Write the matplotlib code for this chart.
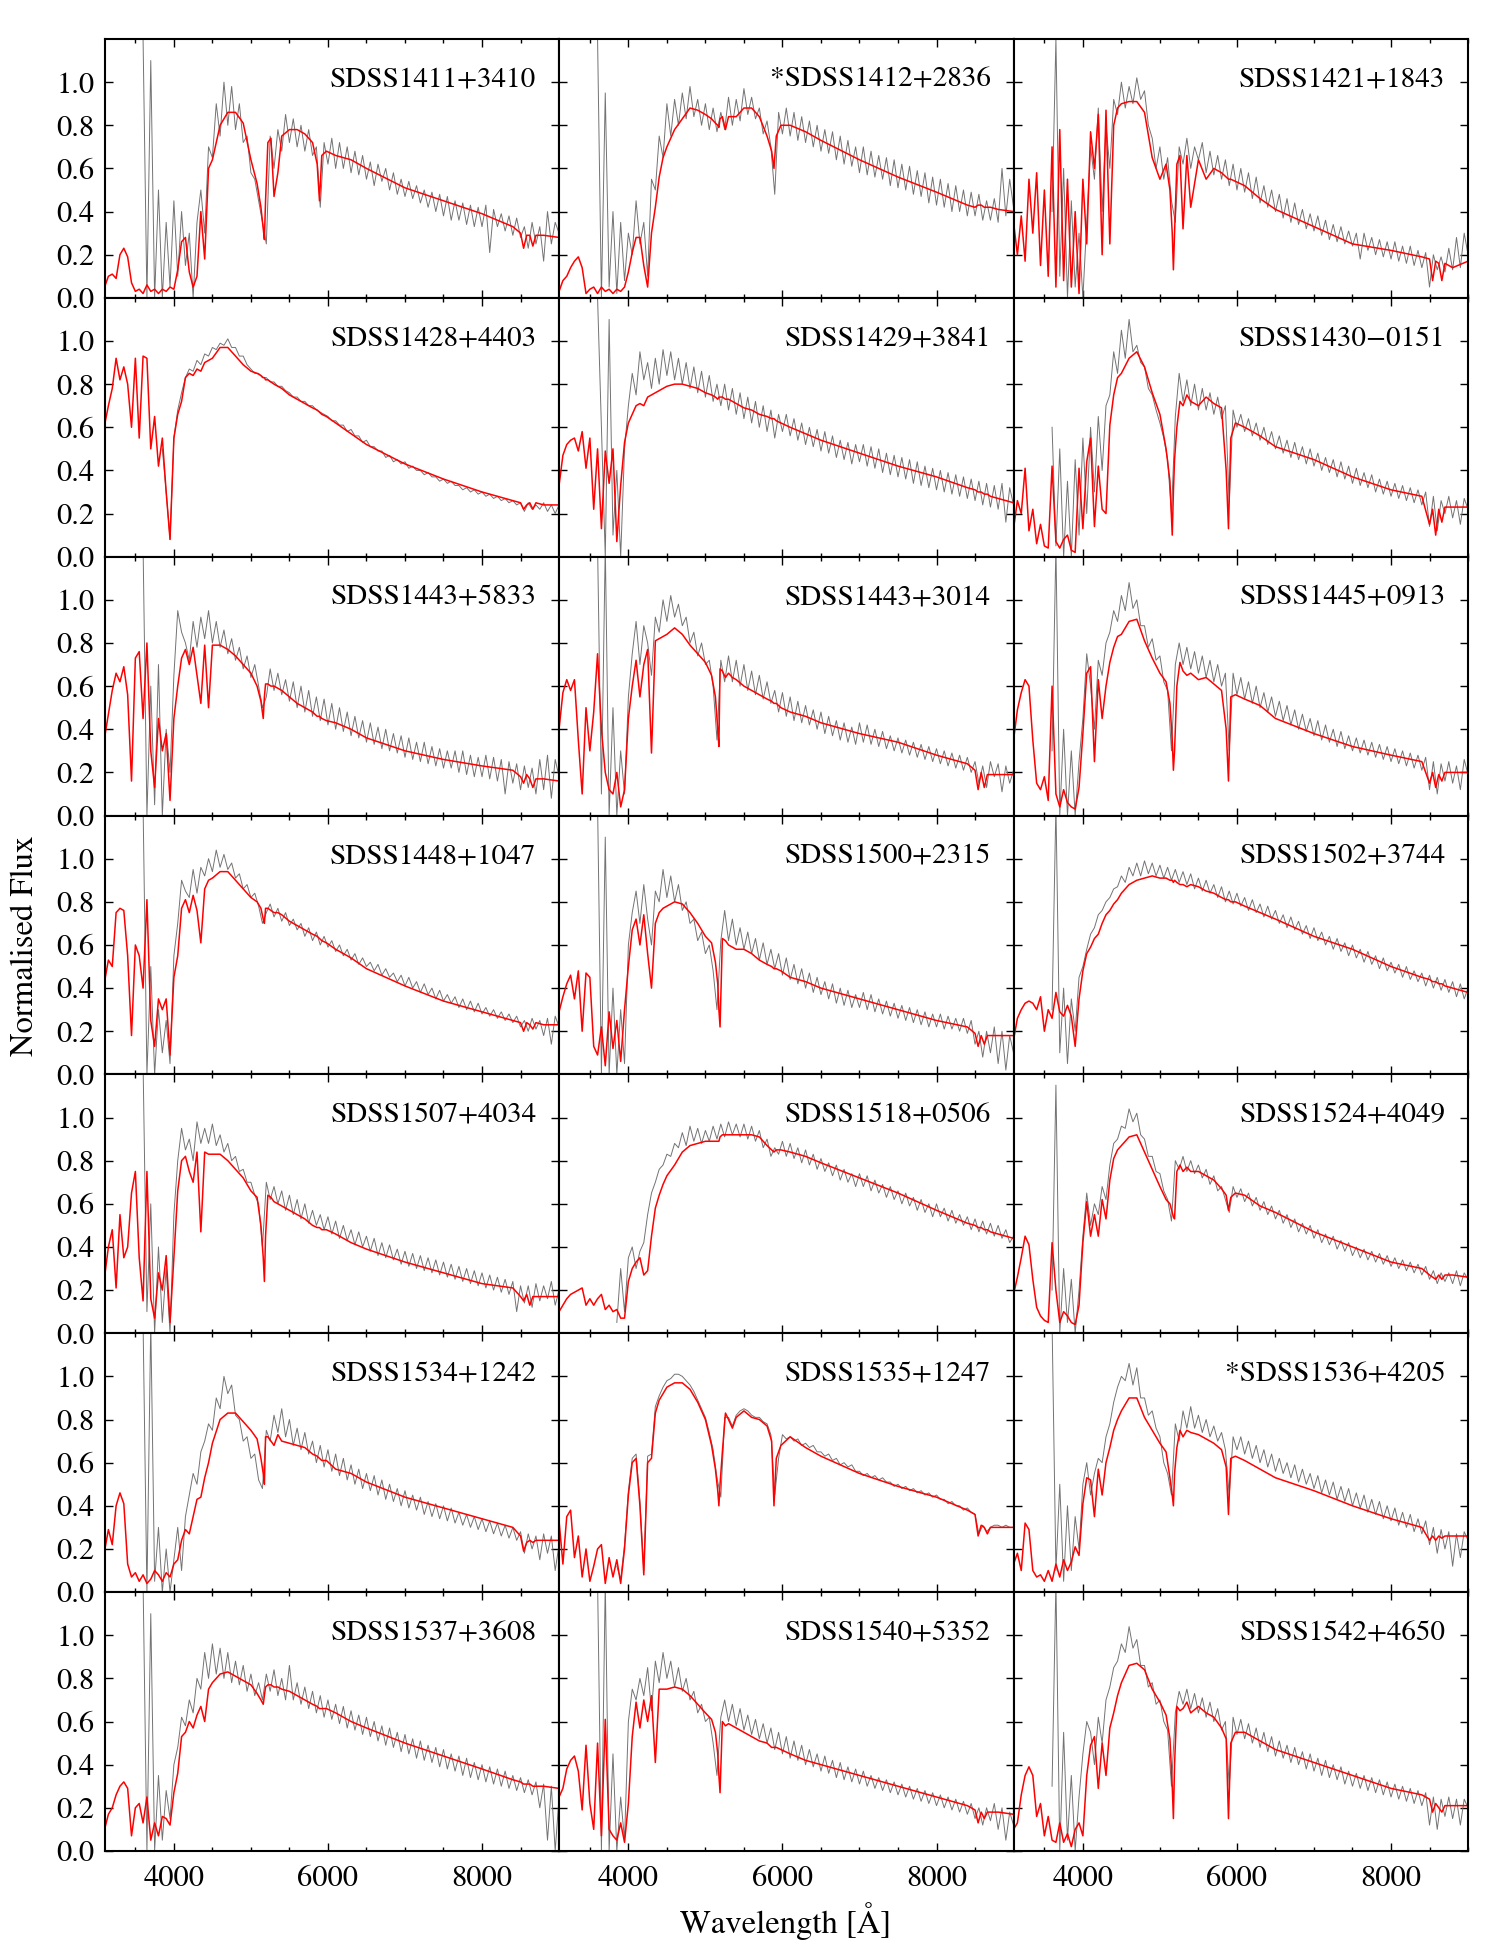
import numpy as np
import matplotlib
matplotlib.use("Agg")
import matplotlib.pyplot as plt
from matplotlib.ticker import MultipleLocator

plt.rcParams["font.family"] = ["STIXGeneral", "DejaVu Serif"]
plt.rcParams["mathtext.fontset"] = "stix"

# wavelength sampling of the model curves (Angstrom)
model_wave = [3100, 3150, 3200, 3250, 3300, 3350, 3400, 3450, 3500, 3550,
              3600, 3650, 3700, 3750, 3800, 3850, 3900, 3950, 4000, 4050,
              4100, 4150, 4200, 4250, 4300, 4350, 4400, 4450, 4500,
              4600, 4700, 4800, 4900, 5000, 5080, 5130, 5160, 5175, 5190,
              5220, 5260, 5300, 5350, 5400, 5500, 5600, 5700, 5800, 5860,
              5890, 5920, 5980, 6100, 6300, 6500, 7000, 7500, 8000, 8400,
              8500, 8540, 8580, 8620, 8660, 8700, 8800, 9000]
# observed spectra, read every 50 A from 3600 to 9000
obs_wave = list(range(3600, 9001, 50))

N = None  # no data

names = ["SDSS1411+3410", "*SDSS1412+2836", "SDSS1421+1843",
         "SDSS1428+4403", "SDSS1429+3841", "SDSS1430\u22120151",
         "SDSS1443+5833", "SDSS1443+3014", "SDSS1445+0913",
         "SDSS1448+1047", "SDSS1500+2315", "SDSS1502+3744",
         "SDSS1507+4034", "SDSS1518+0506", "SDSS1524+4049",
         "SDSS1534+1242", "SDSS1535+1247", "*SDSS1536+4205",
         "SDSS1537+3608", "SDSS1540+5352", "SDSS1542+4650"]

# fluxes in percent of normalised flux
mod_1411 = [5, 10, 11, 9, 20, 23, 19, 7, 3, 4,
            2, 6, 3, 4, 2, 4, 3, 5, 4, 13,
            26, 28, 12, 5, 10, 40, 18, 60, 64,
            80, 86, 86, 81, 64, 53, 42, 32, 27, 45,
            72, 74, 47, 58, 75, 78, 78, 76, 72, 62,
            45, 66, 68, 66, 64, 60, 51, 45, 39, 33,
            30, 23, 29, 29, 24, 29, 29, 28]
obs_1411 = [120, 0, 110, 0, 50, 0, 35, 5,
            45, 10, 40, 15, 30, 0, 35, 50, 30, 70, 65, 90, 75, 100, 80, 98, 78, 90, 72, 75,
            58, 55, 45, 35, 25, 75, 60, 78, 68, 85, 72, 83, 70, 80, 68, 78, 66, 70, 42, 72,
            62, 74, 60, 72, 60, 70, 58, 68, 57, 66, 55, 63, 52, 62, 54, 60, 50, 58, 48, 55,
            47, 54, 46, 52, 44, 50, 42, 49, 40, 48, 38, 47, 36, 45, 36, 44, 34, 43, 33, 42,
            33, 43, 21, 41, 33, 39, 31, 38, 29, 37, 28, 33, 23, 35, 25, 33, 17, 40, 25, 35,
            30]

mod_1412 = [3, 8, 10, 14, 17, 19, 14, 2, 4, 5,
            2, 5, 3, 4, 2, 4, 3, 5, 12, 21,
            28, 28, 15, 5, 30, 42, 56, 65, 70,
            78, 83, 88, 87, 85, 83, 81, 80, 79, 83,
            84, 78, 84, 84, 84, 88, 88, 84, 75, 68,
            60, 75, 80, 80, 77, 73, 64, 56, 49, 43,
            42, 43, 43, 42, 42, 42, 41, 40]
obs_1412 = [120, 0, 95, 5, 40, 2, 35, 8,
            30, 20, 45, 25, 35, 10, 55, 50, 75, 65, 90, 75, 92, 80, 95, 83, 98, 84, 92, 80,
            90, 78, 88, 77, 86, 78, 93, 80, 92, 82, 97, 85, 93, 83, 88, 76, 82, 70, 48, 86,
            76, 88, 75, 86, 73, 84, 72, 82, 70, 80, 68, 78, 67, 77, 64, 75, 62, 73, 61, 70,
            58, 70, 57, 68, 56, 66, 55, 65, 52, 64, 51, 62, 50, 61, 48, 59, 47, 58, 44, 56,
            43, 55, 42, 53, 40, 52, 40, 50, 38, 49, 38, 48, 36, 45, 36, 46, 35, 60, 38, 55,
            42]

mod_1421 = [35, 20, 38, 17, 55, 30, 58, 15, 50, 10,
            70, 5, 78, 8, 55, 5, 40, 2, 55, 25,
            77, 60, 85, 20, 87, 25, 80, 88, 90,
            91, 91, 86, 65, 55, 62, 50, 30, 13, 30,
            62, 66, 32, 66, 42, 64, 55, 60, 58, 56,
            55, 55, 54, 52, 46, 41, 33, 25, 22, 19,
            18, 8, 17, 16, 8, 16, 14, 17]
obs_1421 = [40, 120, 10, 60, 0, 45, 5, 30,
            0, 35, 70, 55, 88, 40, 80, 60, 92, 85, 100, 88, 98, 90, 102, 92, 96, 80, 74, 60,
            70, 55, 65, 45, 35, 70, 62, 74, 60, 70, 64, 72, 58, 68, 57, 66, 55, 64, 52, 62,
            50, 60, 49, 58, 46, 56, 44, 52, 42, 50, 40, 48, 37, 46, 35, 44, 34, 41, 32, 39,
            31, 38, 29, 36, 27, 34, 26, 33, 25, 31, 24, 30, 18, 30, 22, 28, 20, 27, 19, 26,
            18, 26, 17, 24, 16, 24, 15, 22, 14, 21, 5, 20, 13, 19, 12, 23, 13, 28, 14, 30,
            20]

mod_1428 = [61, 70, 78, 92, 82, 88, 80, 60, 92, 55,
            93, 92, 50, 65, 42, 55, 30, 8, 55, 66,
            72, 83, 85, 84, 87, 86, 90, 91, 92,
            97, 97, 93, 89, 86, 85, 84, 83, 83, 82,
            82, 81, 80, 79, 78, 75, 73, 71, 69, 68,
            67, 66, 65, 62, 57, 52, 43, 36, 30, 26,
            25, 22, 24, 25, 22, 25, 24, 24]
obs_1428 = [N, N, N, N, N, 50, 30, 8,
            55, 68, 76, 83, 87, 86, 91, 89, 94, 93, 97, 96, 99, 98, 101, 97, 97, 93, 93, 89,
            87, 85, 85, 83, 83, 81, 81, 79, 79, 77, 76, 74, 74, 72, 72, 70, 70, 68, 67, 66,
            65, 63, 63, 61, 61, 58, 59, 56, 56, 53, 54, 51, 51, 49, 49, 46, 47, 44, 45, 43,
            44, 41, 42, 40, 40, 38, 39, 37, 37, 35, 36, 34, 35, 33, 33, 31, 32, 30, 31, 29,
            30, 28, 29, 27, 28, 26, 27, 25, 26, 24, 25, 21, 25, 22, 24, 22, 25, 21, 24, 20,
            24]

mod_1429 = [33, 47, 52, 54, 55, 49, 58, 41, 55, 22,
            50, 13, 49, 34, 50, 7, 33, 53, 62, 66,
            70, 71, 70, 74, 75, 76, 77, 78, 79,
            80, 80, 79, 78, 76, 75, 74, 73, 74, 74,
            74, 73, 73, 72, 71, 69, 68, 66, 65, 64,
            64, 63, 62, 60, 57, 54, 48, 42, 37, 32,
            31, 30, 30, 29, 29, 28, 27, 25]
obs_1429 = [120, 60, 0, 110, 10, 40, 0, 50,
            70, 85, 75, 95, 82, 90, 78, 92, 80, 96, 84, 95, 82, 92, 80, 90, 78, 88, 76, 86,
            74, 84, 72, 80, 70, 80, 68, 78, 66, 76, 64, 74, 62, 72, 60, 70, 58, 68, 55, 66,
            58, 66, 56, 64, 54, 62, 52, 60, 51, 59, 49, 58, 48, 56, 46, 54, 45, 53, 43, 52,
            44, 52, 42, 51, 41, 50, 39, 48, 38, 47, 37, 46, 36, 45, 34, 44, 33, 42, 32, 41,
            31, 40, 30, 39, 29, 38, 28, 37, 27, 36, 26, 35, 24, 34, 23, 33, 22, 34, 16, 32,
            24]

mod_1430 = [13, 26, 20, 41, 12, 22, 6, 15, 5, 4,
            42, 7, 4, 8, 10, 3, 2, 41, 13, 44,
            55, 14, 42, 22, 20, 61, 75, 83, 85,
            92, 95, 88, 76, 66, 50, 35, 10, 30, 45,
            60, 72, 70, 75, 72, 70, 74, 71, 69, 40,
            13, 55, 62, 60, 56, 51, 45, 37, 31, 28,
            15, 22, 10, 22, 16, 23, 23, 23]
obs_1430 = [60, 5, 50, 0, 35, 0, 45, 10,
            55, 20, 60, 30, 65, 40, 70, 75, 95, 85, 105, 92, 110, 95, 98, 90, 88, 78, 75, 68,
            62, 55, 45, 20, 65, 85, 72, 82, 70, 80, 68, 78, 68, 76, 66, 74, 64, 70, 25, 68,
            60, 66, 58, 64, 56, 62, 54, 60, 52, 58, 50, 56, 48, 54, 46, 53, 45, 51, 43, 50,
            42, 48, 40, 46, 39, 45, 37, 44, 36, 42, 34, 41, 33, 39, 32, 38, 30, 36, 29, 35,
            28, 34, 27, 33, 26, 32, 25, 31, 24, 30, 14, 28, 12, 26, 20, 28, 18, 26, 15, 27,
            22]

mod_1443a = [36, 47, 58, 66, 62, 69, 56, 16, 73, 76,
             45, 80, 30, 13, 45, 30, 38, 7, 45, 60,
             73, 77, 70, 78, 65, 52, 79, 50, 79,
             79, 77, 74, 70, 66, 60, 53, 45, 55, 61,
             61, 60, 60, 59, 58, 55, 52, 50, 48, 46,
             46, 45, 44, 43, 40, 36, 30, 26, 23, 21,
             18, 15, 19, 17, 13, 17, 17, 16]
obs_1443a = [125, 0, 60, 5, 70, 0, 40, 20,
             65, 95, 85, 80, 72, 90, 78, 92, 82, 95, 80, 90, 78, 86, 75, 82, 72, 78, 68, 74,
             64, 70, 60, 50, 55, 68, 58, 66, 56, 63, 53, 62, 50, 60, 48, 58, 46, 55, 44, 54,
             42, 52, 40, 50, 39, 48, 37, 46, 36, 44, 34, 43, 33, 41, 31, 40, 30, 38, 29, 37,
             27, 36, 26, 34, 25, 34, 24, 32, 23, 31, 22, 30, 22, 30, 20, 30, 19, 28, 18, 27,
             18, 28, 17, 27, 16, 26, 10, 25, 15, 24, 12, 23, 13, 22, 10, 26, 12, 28, 8, 26,
             18]

mod_1443b = [40, 57, 63, 58, 63, 35, 10, 50, 30, 48,
             75, 40, 20, 12, 10, 20, 4, 12, 45, 60,
             72, 55, 70, 77, 29, 81, 82, 83, 84,
             87, 84, 79, 75, 71, 65, 55, 40, 32, 68,
             67, 64, 66, 64, 63, 60, 58, 56, 54, 53,
             52, 52, 50, 48, 46, 43, 38, 34, 28, 24,
             21, 12, 20, 13, 19, 19, 19, 19]
obs_1443b = [125, 10, 125, 0, 50, 0, 30, 10,
             55, 75, 90, 70, 88, 80, 65, 92, 85, 100, 90, 102, 92, 98, 88, 92, 80, 85, 74, 80,
             70, 72, 60, 35, 72, 62, 74, 62, 72, 60, 70, 58, 67, 56, 65, 54, 62, 52, 58, 48,
             57, 46, 55, 44, 53, 43, 51, 42, 49, 40, 48, 38, 46, 37, 44, 35, 43, 34, 41, 33,
             43, 34, 42, 33, 40, 32, 39, 31, 37, 30, 36, 29, 35, 28, 34, 27, 33, 26, 32, 25,
             31, 24, 30, 23, 29, 22, 28, 21, 27, 20, 25, 15, 23, 13, 25, 18, 24, 11, 23, 15,
             21]

mod_1445 = [35, 49, 57, 63, 60, 35, 15, 12, 18, 7,
            60, 10, 4, 12, 6, 4, 3, 13, 38, 66,
            69, 25, 63, 45, 60, 71, 78, 83, 84,
            90, 91, 81, 73, 66, 62, 52, 35, 21, 30,
            60, 71, 67, 65, 66, 63, 64, 61, 58, 40,
            16, 55, 56, 54, 51, 45, 38, 32, 28, 25,
            15, 20, 13, 19, 16, 20, 20, 20]
obs_1445 = [30, 125, 0, 40, 0, 30, 0, 25,
            45, 75, 60, 40, 72, 65, 80, 85, 95, 90, 102, 95, 108, 96, 100, 88, 88, 78, 82, 72,
            74, 62, 58, 30, 70, 80, 70, 78, 68, 76, 66, 74, 64, 72, 62, 70, 60, 66, 30, 66,
            56, 64, 54, 62, 52, 60, 50, 57, 48, 55, 46, 53, 44, 51, 42, 49, 40, 47, 39, 45,
            37, 44, 35, 42, 34, 40, 32, 39, 31, 37, 30, 36, 29, 35, 28, 34, 27, 33, 26, 32,
            25, 31, 24, 30, 23, 29, 22, 28, 21, 27, 12, 25, 10, 24, 16, 25, 15, 23, 12, 26,
            19]

mod_1448 = [43, 53, 50, 75, 77, 76, 55, 18, 60, 55,
            40, 81, 25, 13, 35, 30, 35, 9, 45, 55,
            77, 81, 75, 83, 76, 61, 86, 90, 91,
            94, 94, 90, 86, 82, 80, 77, 72, 70, 77,
            77, 76, 75, 75, 74, 71, 69, 67, 65, 64,
            63, 62, 61, 58, 54, 49, 41, 34, 29, 25,
            24, 20, 24, 23, 21, 24, 23, 23]
obs_1448 = [125, 0, 50, 0, 30, 10, 25, 5,
            55, 70, 90, 85, 82, 95, 84, 96, 92, 100, 94, 104, 96, 102, 95, 98, 91, 93, 86, 88,
            82, 84, 78, 70, 75, 79, 73, 77, 71, 75, 69, 72, 67, 70, 64, 68, 62, 66, 60, 64,
            59, 62, 57, 60, 55, 58, 53, 56, 51, 54, 50, 52, 48, 51, 46, 49, 45, 47, 43, 46,
            41, 45, 40, 43, 38, 42, 37, 40, 35, 39, 34, 37, 33, 36, 31, 35, 30, 34, 29, 33,
            28, 31, 27, 30, 26, 29, 25, 28, 24, 27, 22, 25, 20, 26, 21, 25, 18, 26, 14, 27,
            22]

mod_1500 = [29, 36, 42, 46, 35, 48, 20, 47, 45, 13,
            9, 22, 4, 29, 12, 25, 6, 30, 50, 67,
            72, 60, 74, 56, 40, 70, 75, 77, 78,
            80, 79, 75, 70, 64, 61, 52, 42, 30, 22,
            63, 62, 60, 59, 58, 58, 56, 53, 51, 50,
            49, 49, 48, 45, 43, 40, 35, 30, 25, 22,
            19, 13, 18, 14, 18, 18, 18, 18]
obs_1500 = [125, 0, 110, 0, 40, 0, 30, 5,
            60, 75, 85, 70, 88, 72, 60, 85, 80, 95, 82, 92, 80, 88, 76, 80, 70, 72, 62, 66,
            56, 60, 48, 30, 62, 76, 62, 72, 60, 68, 58, 66, 56, 63, 53, 61, 51, 58, 49, 56,
            46, 54, 44, 51, 42, 49, 40, 47, 38, 45, 37, 43, 35, 42, 33, 40, 32, 39, 31, 37,
            31, 38, 30, 37, 29, 35, 28, 34, 27, 33, 26, 32, 25, 31, 24, 30, 23, 29, 22, 28,
            22, 28, 21, 27, 21, 26, 20, 26, 19, 25, 14, 20, 8, 20, 10, 22, 5, 20, 2, 18,
            10]

mod_1502 = [16, 26, 30, 33, 34, 33, 30, 36, 20, 30,
            26, 38, 29, 27, 32, 27, 13, 35, 48, 56,
            59, 63, 65, 70, 74, 76, 79, 81, 84,
            88, 90, 91, 92, 91, 91, 90, 90, 89, 90,
            89, 88, 88, 87, 88, 87, 85, 84, 82, 81,
            81, 80, 80, 78, 75, 72, 64, 58, 50, 45,
            44, 43, 43, 42, 42, 41, 40, 38]
obs_1502 = [30, 125, 10, 40, 5, 35, 20, 45,
            50, 58, 65, 68, 74, 76, 80, 82, 86, 87, 92, 89, 96, 92, 98, 92, 99, 93, 98, 92,
            97, 91, 96, 90, 95, 89, 94, 88, 93, 86, 91, 85, 90, 84, 88, 82, 87, 80, 85, 79,
            84, 78, 82, 76, 81, 75, 79, 73, 78, 72, 76, 70, 74, 68, 73, 67, 71, 65, 69, 63,
            68, 62, 66, 60, 64, 58, 63, 57, 61, 55, 60, 54, 58, 52, 57, 51, 55, 49, 54, 48,
            52, 47, 51, 45, 50, 44, 48, 43, 47, 41, 46, 40, 45, 39, 44, 38, 43, 36, 42, 35,
            40]

mod_1507 = [26, 40, 48, 21, 55, 35, 40, 65, 75, 35,
            15, 75, 16, 7, 28, 20, 36, 5, 35, 66,
            80, 82, 75, 70, 84, 47, 84, 83, 83,
            83, 80, 76, 72, 66, 63, 50, 35, 24, 45,
            64, 63, 61, 60, 59, 57, 55, 53, 50, 49,
            49, 48, 48, 46, 42, 39, 33, 28, 23, 21,
            17, 15, 18, 13, 17, 17, 17, 17]
obs_1507 = [125, 10, 60, 0, 40, 5, 30, 0,
            55, 80, 95, 85, 90, 80, 98, 88, 95, 88, 97, 87, 92, 84, 88, 80, 82, 75, 76, 70,
            70, 64, 60, 40, 70, 62, 68, 60, 66, 57, 64, 55, 62, 53, 60, 51, 57, 50, 55, 48,
            54, 46, 52, 44, 50, 43, 48, 41, 47, 40, 45, 38, 44, 36, 42, 35, 41, 34, 39, 32,
            38, 31, 37, 30, 36, 29, 35, 28, 34, 27, 33, 26, 32, 25, 31, 24, 30, 23, 29, 22,
            28, 21, 27, 20, 26, 19, 25, 18, 24, 10, 22, 14, 22, 12, 23, 15, 22, 16, 24, 13,
            20]

mod_1518 = [10, 13, 16, 18, 19, 20, 21, 13, 16, 13,
            16, 18, 11, 13, 10, 11, 7, 7, 24, 30,
            33, 35, 27, 29, 45, 58, 64, 69, 73,
            78, 84, 87, 88, 89, 89, 89, 89, 89, 91,
            92, 92, 92, 92, 92, 92, 92, 91, 87, 85,
            84, 85, 85, 84, 82, 79, 72, 65, 57, 51,
            50, 49, 49, 48, 48, 47, 46, 44]
obs_1518 = [N, N, N, N, N, 5, 30, 10,
            35, 40, 30, 38, 42, 55, 65, 70, 76, 78, 83, 82, 88, 86, 93, 87, 96, 89, 95, 88,
            94, 89, 96, 90, 97, 91, 98, 92, 97, 91, 97, 90, 96, 89, 94, 86, 90, 82, 86, 83,
            89, 82, 88, 81, 86, 79, 85, 78, 83, 76, 81, 75, 79, 73, 78, 71, 76, 70, 74, 68,
            74, 68, 73, 66, 71, 65, 69, 63, 68, 62, 66, 60, 65, 59, 63, 57, 62, 56, 60, 54,
            60, 54, 58, 52, 57, 51, 55, 50, 54, 48, 53, 47, 52, 46, 51, 45, 50, 44, 48, 42,
            45]

mod_1524 = [18, 26, 35, 45, 41, 25, 12, 8, 6, 5,
            42, 20, 5, 10, 8, 5, 4, 13, 42, 61,
            45, 55, 45, 62, 53, 71, 81, 85, 87,
            91, 92, 84, 76, 68, 62, 60, 56, 54, 53,
            75, 78, 75, 77, 75, 75, 73, 71, 67, 64,
            57, 63, 65, 64, 59, 56, 47, 40, 33, 30,
            27, 26, 25, 27, 25, 27, 27, 26]
obs_1524 = [20, 115, 0, 30, 5, 25, 0, 20,
            45, 65, 50, 60, 55, 68, 62, 78, 88, 90, 96, 95, 104, 98, 102, 92, 90, 82, 82, 75,
            74, 66, 62, 52, 80, 76, 82, 75, 80, 74, 78, 72, 76, 69, 73, 66, 68, 62, 56, 68,
            63, 67, 61, 65, 59, 63, 57, 61, 55, 59, 53, 57, 51, 55, 49, 53, 47, 51, 46, 50,
            44, 48, 42, 46, 41, 45, 39, 43, 38, 42, 36, 40, 35, 39, 34, 38, 33, 37, 32, 36,
            31, 35, 30, 34, 29, 33, 28, 32, 27, 31, 25, 29, 23, 28, 24, 28, 23, 29, 22, 28,
            25]

mod_1534 = [19, 29, 22, 40, 46, 41, 13, 7, 9, 5,
            8, 4, 6, 10, 8, 5, 9, 7, 13, 15,
            24, 29, 27, 35, 43, 44, 53, 60, 69,
            80, 83, 83, 79, 75, 71, 62, 55, 50, 72,
            72, 70, 68, 73, 70, 69, 68, 67, 64, 63,
            62, 61, 61, 57, 55, 51, 44, 39, 34, 30,
            26, 19, 23, 24, 23, 24, 24, 24]
obs_1534 = [125, 0, 125, 5, 30, 0, 20, 0,
            15, 30, 10, 35, 45, 55, 50, 65, 70, 78, 75, 90, 85, 100, 92, 96, 82, 80, 70, 72,
            62, 64, 52, 48, 75, 70, 82, 74, 85, 72, 80, 68, 76, 66, 74, 64, 70, 60, 68, 58,
            66, 56, 64, 54, 62, 52, 59, 50, 57, 48, 55, 47, 54, 45, 52, 43, 50, 42, 48, 40,
            47, 39, 45, 38, 44, 36, 42, 35, 41, 34, 40, 33, 39, 32, 37, 31, 36, 30, 35, 29,
            34, 28, 33, 27, 32, 26, 31, 25, 30, 24, 28, 18, 27, 20, 26, 15, 27, 18, 26, 10,
            22]

mod_1535 = [33, 13, 35, 38, 16, 26, 7, 20, 5, 12,
            20, 22, 4, 16, 7, 15, 4, 20, 45, 60,
            62, 40, 8, 60, 62, 83, 89, 92, 95,
            97, 97, 94, 88, 80, 68, 57, 47, 40, 50,
            65, 83, 80, 76, 81, 84, 81, 80, 77, 70,
            40, 62, 68, 72, 67, 63, 55, 49, 44, 38,
            36, 26, 31, 30, 27, 30, 30, 30]
obs_1535 = [N, N, N, N, N, 12, 6, 22,
            47, 62, 64, 42, 10, 63, 64, 86, 91, 95, 98, 99, 101, 101, 100, 98, 96, 93, 89, 85,
            81, 74, 66, 53, 44, 81, 81, 77, 82, 84, 85, 84, 82, 81, 81, 79, 78, 73, 45, 62,
            73, 71, 72, 70, 71, 68, 69, 67, 68, 65, 65, 63, 64, 61, 62, 59, 60, 58, 59, 56,
            56, 54, 55, 53, 54, 52, 53, 51, 51, 49, 50, 48, 49, 47, 48, 46, 47, 45, 46, 44,
            45, 43, 43, 41, 42, 40, 40, 38, 39, 37, 36, 27, 31, 28, 30, 31, 31, 30, 31, 30,
            30]

mod_1536 = [13, 18, 10, 32, 29, 10, 7, 8, 5, 10,
            5, 13, 7, 15, 10, 14, 21, 17, 41, 53,
            52, 35, 57, 45, 60, 67, 75, 80, 84,
            90, 90, 81, 75, 69, 65, 53, 45, 40, 55,
            67, 75, 72, 75, 74, 73, 71, 69, 66, 58,
            36, 62, 63, 61, 57, 53, 47, 40, 34, 30,
            24, 26, 24, 26, 25, 26, 26, 26]
obs_1536 = [125, 10, 50, 5, 40, 10, 35, 20,
            50, 60, 45, 55, 62, 60, 72, 78, 88, 95, 100, 98, 106, 96, 104, 90, 90, 82, 84, 76,
            72, 60, 55, 45, 78, 70, 84, 76, 86, 76, 82, 74, 80, 72, 77, 70, 74, 66, 45, 72,
            66, 72, 64, 70, 62, 68, 60, 66, 58, 64, 56, 62, 55, 60, 53, 59, 51, 57, 50, 55,
            48, 54, 46, 52, 45, 51, 43, 49, 42, 48, 40, 46, 39, 45, 37, 43, 36, 42, 34, 40,
            33, 39, 31, 37, 30, 36, 28, 34, 27, 33, 22, 30, 18, 29, 20, 28, 12, 27, 16, 28,
            24]

mod_1537 = [10, 17, 20, 26, 30, 32, 29, 7, 20, 22,
            13, 25, 5, 13, 7, 16, 15, 12, 27, 36,
            53, 55, 60, 57, 63, 67, 60, 75, 78,
            82, 83, 81, 79, 77, 73, 70, 68, 72, 76,
            77, 77, 76, 76, 75, 74, 72, 70, 68, 67,
            66, 66, 66, 64, 60, 57, 50, 44, 38, 33,
            32, 31, 31, 31, 30, 30, 30, 29]
obs_1537 = [125, 0, 110, 0, 35, 5, 28, 15,
            40, 48, 62, 58, 70, 64, 80, 75, 92, 80, 96, 82, 94, 80, 92, 78, 88, 77, 86, 74,
            82, 72, 78, 70, 82, 74, 84, 72, 80, 70, 86, 70, 78, 68, 76, 66, 74, 64, 72, 62,
            70, 61, 68, 59, 67, 57, 65, 56, 63, 54, 62, 53, 60, 51, 58, 49, 57, 48, 55, 46,
            54, 45, 52, 43, 51, 42, 49, 41, 48, 39, 47, 38, 45, 37, 44, 35, 43, 34, 41, 33,
            40, 32, 39, 31, 38, 30, 37, 29, 35, 28, 34, 27, 33, 26, 32, 20, 31, 5, 30, 0,
            25]

mod_1540 = [25, 29, 38, 42, 44, 37, 19, 49, 22, 10,
            50, 7, 61, 10, 7, 5, 13, 4, 22, 53,
            69, 57, 70, 60, 72, 41, 75, 75, 75,
            76, 75, 72, 68, 64, 61, 55, 45, 35, 27,
            60, 58, 59, 58, 57, 55, 53, 51, 50, 48,
            48, 48, 47, 45, 42, 40, 35, 30, 25, 21,
            19, 13, 18, 15, 18, 18, 18, 17]
obs_1540 = [125, 0, 125, 0, 45, 0, 25, 5,
            60, 75, 70, 80, 72, 85, 65, 88, 78, 92, 80, 88, 76, 85, 74, 80, 70, 74, 64, 68,
            60, 62, 50, 35, 62, 70, 60, 68, 58, 66, 56, 63, 54, 61, 52, 59, 50, 57, 47, 55,
            45, 53, 43, 51, 42, 49, 40, 47, 39, 45, 37, 44, 36, 42, 34, 41, 33, 39, 32, 38,
            31, 37, 30, 35, 29, 34, 28, 33, 27, 32, 26, 31, 25, 30, 24, 29, 23, 28, 22, 27,
            21, 26, 20, 25, 19, 24, 18, 23, 17, 22, 15, 20, 12, 20, 14, 22, 10, 20, 5, 18,
            12]

mod_1542 = [10, 13, 26, 35, 39, 35, 16, 22, 7, 16,
            5, 4, 13, 4, 8, 2, 10, 13, 7, 35,
            49, 53, 29, 50, 35, 57, 64, 72, 78,
            86, 87, 84, 75, 69, 63, 52, 30, 15, 40,
            67, 65, 66, 69, 64, 67, 64, 62, 57, 52,
            15, 50, 55, 55, 51, 47, 41, 35, 29, 26,
            24, 18, 22, 20, 18, 21, 21, 21]
obs_1542 = [30, 125, 0, 55, 5, 35, 0, 25,
            45, 60, 55, 40, 62, 50, 70, 76, 85, 88, 96, 92, 104, 94, 98, 86, 86, 76, 78, 68,
            70, 60, 56, 30, 64, 74, 68, 75, 66, 73, 64, 71, 62, 69, 60, 66, 56, 60, 30, 62,
            54, 61, 52, 59, 50, 57, 48, 55, 46, 53, 44, 51, 43, 49, 41, 48, 40, 46, 38, 45,
            37, 43, 35, 42, 34, 40, 33, 39, 31, 37, 30, 36, 29, 35, 28, 34, 27, 33, 26, 32,
            25, 31, 24, 30, 23, 29, 22, 28, 21, 27, 12, 25, 10, 24, 16, 25, 15, 24, 12, 24,
            20]

models = [mod_1411, mod_1412, mod_1421, mod_1428, mod_1429, mod_1430,
          mod_1443a, mod_1443b, mod_1445, mod_1448, mod_1500, mod_1502,
          mod_1507, mod_1518, mod_1524, mod_1534, mod_1535, mod_1536,
          mod_1537, mod_1540, mod_1542]
observed = [obs_1411, obs_1412, obs_1421, obs_1428, obs_1429, obs_1430,
            obs_1443a, obs_1443b, obs_1445, obs_1448, obs_1500, obs_1502,
            obs_1507, obs_1518, obs_1524, obs_1534, obs_1535, obs_1536,
            obs_1537, obs_1540, obs_1542]

for nm, m, o in zip(names, models, observed):
    assert len(m) == len(model_wave), (nm, "model", len(m))
    assert len(o) == len(obs_wave), (nm, "obs", len(o))

fig, axes = plt.subplots(7, 3, figsize=(15, 19.5), dpi=100, sharex=True, sharey=True)
fig.subplots_adjust(left=0.0697, right=0.9787, top=0.98, bottom=0.0508,
                    wspace=0, hspace=0)

for ax, nm, o, m in zip(axes.flat, names, observed, models):
    ax.plot(obs_wave, np.array(o, dtype=float) / 100, color="0.45", lw=0.7)
    ax.plot(model_wave, np.array(m, dtype=float) / 100, color="red", lw=1.1)
    ax.text(0.95, 0.84, nm, transform=ax.transAxes, ha="right", va="center",
            fontsize=21)
    ax.set_xlim(3100, 9000)
    ax.set_ylim(0, 1.2)
    ax.set_xticks([4000, 6000, 8000])
    ax.xaxis.set_minor_locator(MultipleLocator(500))
    ax.set_yticks([0.0, 0.2, 0.4, 0.6, 0.8, 1.0])
    ax.tick_params(which="both", direction="in", top=True, right=True,
                   labelsize=22, width=1.0)
    ax.tick_params(which="major", length=6)
    ax.tick_params(which="minor", length=3)
    ax.tick_params(axis="x", pad=10)
    ax.tick_params(axis="y", pad=7)
    for sp in ax.spines.values():
        sp.set_linewidth(1.5)

fig.text(0.017, 0.515, "Normalised Flux", rotation=90, ha="center", va="center",
         fontsize=23.5)
fig.text(0.524, 0.015, "Wavelength [\u00c5]", ha="center", va="center", fontsize=23.5)

fig.savefig("out.png", dpi=100)
